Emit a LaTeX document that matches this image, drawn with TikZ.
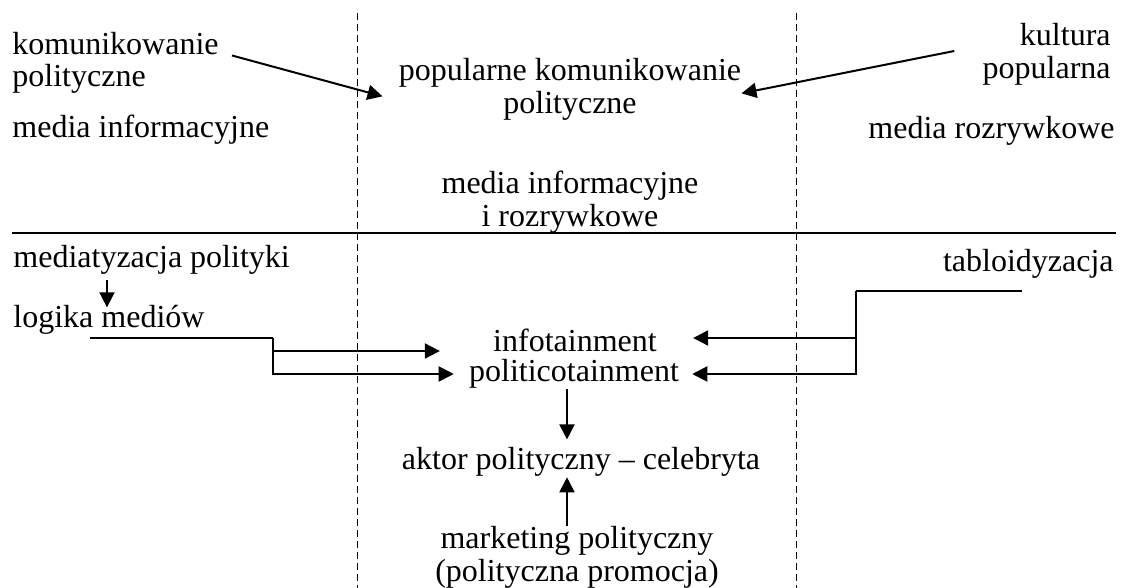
\documentclass[tikz,border=0pt]{standalone}
\usepackage{fontspec}
\setmainfont{Liberation Serif}
\usetikzlibrary{arrows.meta}

\tikzset{
  txt/.style={inner sep=0pt},
  conn/.style={line width=1pt,-{Triangle[length=7.5pt,width=7.5pt]}},
  guide/.style={dashed,dash pattern=on 3.5pt off 2pt,line width=0.5pt},
}

\begin{document}
\begin{tikzpicture}[x=0.5pt,y=-0.5pt,font=\fontsize{16}{16.4}\selectfont]
\useasboundingbox (0,0) rectangle (1126,588);
% frame
\draw[guide] (357,13) -- (357,588);
\draw[guide] (796,13) -- (796,588);
\draw[line width=0.65pt] (12,233) -- (1116,233);

% upper part
\node[txt,anchor=north west,align=left] (kom) at (12,31.5) {komunikowanie\\polityczne};
\node[txt,anchor=base west] (medinf) at (12,138) {media informacyjne};
\node[txt,anchor=north,align=center] (pop) at (570,58) {popularne komunikowanie\\polityczne};
\node[txt,anchor=north east,align=right] (kul) at (1111,23) {kultura\\popularna};
\node[txt,anchor=base east] (medroz) at (1115,139) {media rozrywkowe};
\node[txt,anchor=north,align=center] (mix) at (570,170.5) {media informacyjne\\i rozrywkowe};

\draw[conn] ([shift={(13,24)}]kom.north east) -- ([shift={(-16,7)}]pop.west);
\draw[conn] ([shift={(-28,28)}]kul.north west) -- ([shift={(0,4)}]pop.east);

% lower part
\node[txt,anchor=base west] (mpol) at (13,268) {mediatyzacja polityki};
\node[txt,anchor=base west] (log) at (13,328) {logika mediów};
\node[txt,anchor=base east] (tab) at (1114,272) {tabloidyzacja};
\node[txt,anchor=base] (info) at (575,352) {infotainment};
\node[txt,anchor=base] (poli) at (574,382) {politicotainment};
\node[txt,anchor=base] (akt) at (581,470) {aktor polityczny -- celebryta};
\node[txt,anchor=north,align=center] (mkt) at (577,526) {marketing polityczny\\(polityczna promocja)};

\coordinate (iL) at ([shift={(-53,-1)}]info.base west);
\coordinate (pL) at ([shift={(-15,-8)}]poli.base west);
\coordinate (iR) at ([shift={(36,-14)}]info.base east);
\coordinate (pR) at ([shift={(13,-8)}]poli.base east);
\coordinate (ax) at (567,0);

\draw[conn] (mpol.south west) ++(94,5) -- ++(0,27);
\draw[line width=1pt] (log.base west) ++(77,10) -- ++(183,0) coordinate (lj);
\draw[conn] (lj) |- (iL);
\draw[conn] (lj) |- (pL);
\draw[line width=1pt] (tab.base east) ++(-92,19) -- ++(-166,0) coordinate (rj);
\draw[conn] (rj) |- (iR);
\draw[conn] (rj) |- (pR);

\draw[conn,shorten >=4pt] (poli.south -| ax) -- (ax |- akt.north);
\draw[conn] (mkt.north -| ax) -- (ax |- akt.south);
\end{tikzpicture}
\end{document}
